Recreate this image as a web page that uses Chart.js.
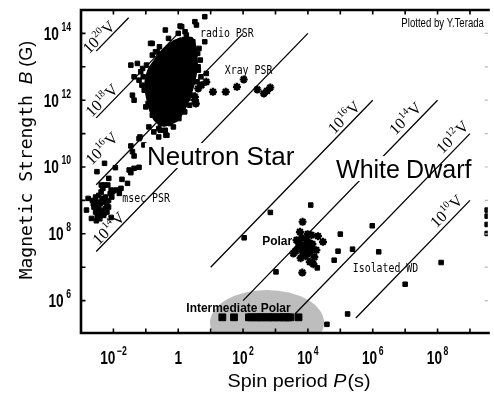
<!DOCTYPE html>
<html><head><meta charset="utf-8">
<script src="https://cdn.jsdelivr.net/npm/chart.js@4.4.1/dist/chart.umd.min.js"></script>
<style>html,body{margin:0;padding:0;background:#fff;overflow:hidden}canvas{display:block}</style>
</head><body>
<canvas id="c" width="494" height="394"></canvas>
<script>
// ===== data: log10 values =====
const xRangeExp = [-3.0, 9.55];      // log10 P(s)
const yRangeExp = [5.03, 14.70];     // log10 B(G)
const xTickExps = [-3,-2,-1,0,1,2,3,4,5,6,7,8,9];
const yTickExps = [6,7,8,9,10,11,12,13,14];
const xLabelExps = [-2,0,2,4,6,8];
const yLabelExps = [6,8,10,12,14];

// dense core of the radio pulsar cloud (outline)
const radioCoreLogP = [0.106,0.41,0.514,0.562,0.514,0.41,0.258,0.106,-0.046,-0.45,-0.702,-0.854,-0.957,-1.006,-0.906,-0.702,-0.45,-0.146,0.106];
const radioCoreLogB = [13.85,13.85,13.60,13.10,12.70,12.30,11.90,11.60,11.40,11.25,11.40,11.70,12.10,12.50,12.90,13.20,13.50,13.75,13.85];
// radio pulsars around the core
const radioLogP = [0.818,0.514,0.562,-0.398,0.106,0.210,0.818,-0.805,-0.702,-1.261,-1.462,-1.158,-1.362,-1.210,-1.413,-1.362,0.866,0.614,-0.906,-0.602,-0.350,-0.602,-1.210,0.058,-0.854,-1.18,
  0.25,0.45,0.60,0.62,0.58,0.48,0.35,0.20,0.02,-0.25,-0.55,-0.80,-0.93,-1.05,-1.08,-0.98,-0.80,-0.58,-0.30,0.00,0.68,0.70,-1.12,-1.00,-0.40,-0.15,0.30,0.64,-0.65,-1.10];
const radioLogB = [14.50,14.35,14.25,14.10,14.20,14.05,13.75,13.70,13.45,13.10,13.05,12.85,12.70,12.60,12.15,12.00,12.80,13.00,11.20,11.15,10.95,10.90,10.85,14.22,13.70,10.90,
  13.95,13.75,13.40,12.90,12.55,12.15,11.85,11.65,11.45,11.30,11.30,11.55,11.90,12.30,12.70,13.05,13.35,13.60,13.85,14.00,13.20,12.70,12.45,11.80,11.10,11.20,12.05,13.55,13.45,12.95];
// millisecond / recycled pulsars
const msecLogP = [-0.550,-0.754,-0.380,-1.462,-1.058,-0.906,-0.702,-1.413,-1.362,-2.508,-2.274,-1.939,-1.514,-1.362,-1.210,-1.462,-1.736,-1.565,-2.143,-2.374,-2.274,-2.173,-2.325,-2.070,-2.021,-1.918,-1.818,-1.766,-2.830,-2.678,-2.526,-2.781,-2.070,-2.426,
  -2.55,-2.45,-2.35,-2.25,-2.15,-2.50,-2.40,-2.30,-2.20,-2.60,-2.45,-2.35,-2.25,-2.55,-2.40,-2.30,-2.50,-2.20,-2.65,-2.10,-2.38,-2.62,-2.48,-2.28,-2.42,-2.15,-2.05];
const msecLogB = [11.10,11.05,10.95,10.63,10.66,10.56,10.56,10.46,10.33,9.86,10.11,9.98,9.91,9.96,9.99,9.83,9.63,9.51,9.66,9.46,9.46,9.46,9.36,9.31,9.26,9.31,9.21,9.36,8.71,8.46,8.39,9.06,8.49,8.53,
  9.10,9.15,9.05,9.10,9.00,8.95,8.90,8.95,8.85,8.80,8.75,8.70,8.75,8.65,8.60,8.55,8.50,8.65,9.00,9.20,9.25,8.90,8.85,8.62,8.45,8.80,9.10];
// X-ray pulsars
const xrayLogP = [0.614,0.714,0.866,0.514,0.514,0.544,1.07,1.465,1.81,2.02,2.44,2.64,2.74,2.84];
const xrayLogB = [12.35,12.45,12.55,12.10,12.00,11.90,12.25,12.25,12.40,12.62,12.32,12.20,12.28,12.38];
// polars
const polarLogP = [3.836,3.754,4.109,4.465,3.827,3.553,4.058,4.20,4.26,3.957,3.896,4.018,3.714,3.836,4.14,3.65,3.805,4.079,3.927,3.775,4.31,3.99,3.62,4.17,3.88,3.98,4.05,3.72,3.95,4.10];
const polarLogB = [8.36,8.06,7.96,7.76,6.84,7.41,7.16,7.30,7.51,7.81,7.66,7.57,7.60,7.45,7.69,7.81,7.87,7.45,7.33,7.27,7.93,7.99,7.48,7.09,7.55,7.40,7.72,7.72,7.60,7.55];
// isolated white dwarfs
const wdLogP = [4.088,2.842,2.033,5.0,5.985,4.93,5.377,6.185,4.81,4.29,3.015,8.11,7.0,5.225,4.587,9.53,9.53,9.53,9.53];
const wdLogB = [8.86,8.64,7.88,7.99,8.24,7.48,7.54,7.46,7.21,6.98,6.86,7.14,6.49,5.60,5.29,8.71,8.53,8.28,8.01];
// intermediate polars
const ipLogP = [1.36,1.72,2.18,2.25,2.37,2.43,2.55,2.60,2.73,2.79,2.90,2.96,3.08,3.13,3.25,3.31,3.39,3.46,3.71];
const ipLogB = [5.50,5.50,5.50,5.50,5.50,5.50,5.50,5.50,5.50,5.50,5.50,5.50,5.50,5.50,5.50,5.50,5.50,5.50,5.50];
// shaded intermediate-polar region: centre and half extent (decades)
const ipRegionLogP = [2.74, 1.76];
const ipRegionLogB = [5.33, 0.99];
// constant-voltage lines (log10 V) with their end points
const voltExp   = [20,18,16,14,16,14,12,10];
const voltP0 = [-2.53,-2.53,-2.53,-2.53,1.0,2.0,3.6,5.48];
const voltB0 = [13.47,11.47,9.47,7.47,7.0,6.0,5.6,5.48];
const voltP1 = [-1.53,0.0,2.0,4.0,6.0,8.0,9.0,9.0];
const voltB1 = [14.47,14.0,14.0,14.0,12.0,12.0,11.0,9.0];
// voltage label anchors (log P, log B)
const voltLabP = [-2.456,-2.365,-2.365,-2.152,5.11,7.0,8.456,8.27];
const voltLabB = [13.89,12.0,10.56,8.17,11.49,11.46,10.9,8.68];

// ===== build =====
const P10 = v => Math.pow(10, v);
const pts = (lp, lb) => lp.map((p, i) => ({x: P10(p), y: P10(lb[i])}));

const sq = (lp, lb, r) => ({data: pts(lp, lb), pointStyle: 'rect', pointRadius: r, pointBackgroundColor: '#000', pointBorderColor: '#000', pointBorderWidth: 1, showLine: false});
const star = (lp, lb) => ({data: pts(lp, lb), pointStyle: 'star', pointRadius: 4, pointBorderColor: '#000', pointBackgroundColor: '#000', pointBorderWidth: 2.2, showLine: false});

const datasets = [
  sq(ipLogP, ipLogB, 4.8),
  sq(wdLogP, wdLogB, 3.2),
  star(polarLogP, polarLogB),
  star(xrayLogP, xrayLogB),
  sq(msecLogP, msecLogB, 3.2),
  sq(radioLogP, radioLogB, 3.2),
  {data: pts(radioCoreLogP, radioCoreLogB), showLine: true, fill: 'shape', tension: 0.2, borderColor: '#000', backgroundColor: '#000', borderWidth: 3, pointRadius: 0}
];
voltExp.forEach((v, i) => {
  datasets.push({data: pts([voltP0[i], voltP1[i]], [voltB0[i], voltB1[i]]), showLine: true, borderColor: '#000', borderWidth: 1.3, pointRadius: 0, fill: false});
});

// text annotations (text, log P, log B of left baseline)
const notes = [
  {t: 'radio PSR', p: 0.675, b: 13.889, kind: 'mono'},
  {t: 'Xray PSR', p: 1.435, b: 12.78, kind: 'mono'},
  {t: 'msec PSR', p: -1.726, b: 8.949, kind: 'mono'},
  {t: 'Isolated WD', p: 5.386, b: 6.853, kind: 'mono'},
  {t: 'Polar', p: 2.59, b: 7.662, kind: 'bold'},
  {t: 'Intermediate Polar', p: 0.249, b: 5.656, kind: 'bold'}
];
const bigNotes = [
  {t: 'Neutron Star', p: -0.967, b: 10.057, box: true, size: 26},
  {t: 'White', p: 4.869, b: 9.668, box: true, size: 25},
  {t: 'Dwarf', p: 7.03, b: 9.668, box: false, size: 25}
];

function drawScaled(ctx, text, x, y, font, sx, align) {
  ctx.save();
  ctx.font = font;
  const w = ctx.measureText(text).width * sx;
  const x0 = align === 'right' ? x - w : align === 'center' ? x - w / 2 : x;
  ctx.translate(x0, y); ctx.scale(sx, 1);
  ctx.textAlign = 'left'; ctx.textBaseline = 'alphabetic';
  ctx.fillText(text, 0, 0);
  ctx.restore();
  return w;
}
function supLabel(ctx, base, exp, x, y, o) {
  ctx.save();
  ctx.font = o.bf; const bw = ctx.measureText(base).width * o.sx;
  ctx.font = o.ef; const ew = exp ? ctx.measureText(exp).width * o.sx : 0;
  const gap = exp ? o.gap : 0;
  const tot = bw + gap + ew;
  const x0 = o.align === 'right' ? x - tot : o.align === 'center' ? x - tot / 2 : x;
  ctx.translate(x0, y); ctx.scale(o.sx, 1);
  ctx.textAlign = 'left'; ctx.textBaseline = 'alphabetic';
  ctx.font = o.bf; ctx.fillText(base, 0, 0);
  if (exp) { ctx.font = o.ef; ctx.fillText(exp, (bw + gap) / o.sx, -o.rise); }
  ctx.restore();
}

const deco = {
  id: 'deco',
  beforeDatasetsDraw(chart) {
    const {ctx, chartArea: a, scales: {x, y}} = chart;
    ctx.save();
    ctx.beginPath(); ctx.rect(a.left, a.top, a.right - a.left, a.bottom - a.top); ctx.clip();
    const cx = x.getPixelForValue(P10(ipRegionLogP[0]));
    const cy = y.getPixelForValue(P10(ipRegionLogB[0]));
    const rx = x.getPixelForValue(P10(ipRegionLogP[0] + ipRegionLogP[1])) - cx;
    const ry = cy - y.getPixelForValue(P10(ipRegionLogB[0] + ipRegionLogB[1]));
    ctx.fillStyle = '#bdbdbd';
    ctx.beginPath(); ctx.ellipse(cx, cy, rx, ry, 0, 0, 2 * Math.PI); ctx.fill();
    ctx.restore();
  },
  afterDatasetsDraw(chart) {
    const {ctx, chartArea: a, scales: {x, y}} = chart;
    const X = v => x.getPixelForValue(P10(v));
    const Y = v => y.getPixelForValue(P10(v));
    ctx.save();
    ctx.fillStyle = '#000';

    // big region names with white background
    bigNotes.forEach(n => {
      const px = X(n.p), py = Y(n.b);
      ctx.font = n.size + 'px "Liberation Sans", Arial, sans-serif';
      const w = ctx.measureText(n.t).width;
      if (n.box) { ctx.fillStyle = '#fff'; ctx.fillRect(px - 2, py - 22, w + 4, 25); }
      ctx.fillStyle = '#000';
      ctx.textAlign = 'left'; ctx.textBaseline = 'alphabetic';
      ctx.fillText(n.t, px, py);
    });

    // small annotations
    notes.forEach(n => {
      const px = X(n.p), py = Y(n.b);
      if (n.kind === 'mono') drawScaled(ctx, n.t, px, py, '13px "DejaVu Sans Mono", monospace', 0.76, 'left');
      else drawScaled(ctx, n.t, px, py, 'bold 13px "Liberation Sans", Arial, sans-serif', 0.92, 'left');
    });

    // voltage labels
    voltExp.forEach((v, i) => {
      const px = X(voltLabP[i]), py = Y(voltLabB[i]);
      ctx.save();
      ctx.translate(px, py); ctx.rotate(-Math.PI / 4);
      const bf = '16px "Liberation Serif", "Times New Roman", serif';
      const ef = '10px "Liberation Serif", "Times New Roman", serif';
      ctx.font = bf; const w1 = ctx.measureText('10').width; const w3 = ctx.measureText('V').width;
      ctx.font = ef; const w2 = ctx.measureText(String(v)).width;
      let sx0 = -(w1 + w2 + w3 + 1) / 2;
      ctx.textAlign = 'left'; ctx.textBaseline = 'alphabetic';
      ctx.font = bf; ctx.fillText('10', sx0, 5.5);
      ctx.font = ef; ctx.fillText(String(v), sx0 + w1 + 0.5, -1.5);
      ctx.font = bf; ctx.fillText('V', sx0 + w1 + w2 + 1, 5.5);
      ctx.restore();
    });

    // credit
    drawScaled(ctx, 'Plotted by Y.Terada', X(9.43), Y(14.19), '12px "Liberation Sans", Arial, sans-serif', 0.8, 'right');

    // axes
    ctx.strokeStyle = '#000';
    ctx.lineWidth = 2.6;
    ctx.beginPath();
    ctx.moveTo(a.right + 2, a.top); ctx.lineTo(a.left, a.top);
    ctx.lineTo(a.left, a.bottom); ctx.lineTo(a.right + 2, a.bottom);
    ctx.stroke();
    ctx.lineWidth = 1.6;
    ctx.beginPath();
    xTickExps.forEach(e => {
      const px = X(e);
      ctx.moveTo(px, a.bottom); ctx.lineTo(px, a.bottom - 4.5);
      ctx.moveTo(px, a.top); ctx.lineTo(px, a.top + 4.5);
    });
    yTickExps.forEach(e => {
      const py = Y(e);
      ctx.moveTo(a.left, py); ctx.lineTo(a.left + 4.5, py);
    });
    ctx.stroke();
    // faint ticks of the (cut-off) right axis
    ctx.strokeStyle = '#b5b5b5'; ctx.lineWidth = 1.2;
    ctx.beginPath();
    yTickExps.forEach(e => { const py = Y(e); ctx.moveTo(a.right - 3, py); ctx.lineTo(a.right, py); });
    ctx.stroke();

    // tick labels
    ctx.fillStyle = '#000';
    const tk = {bf: 'bold 19px "Liberation Sans", Arial, sans-serif', ef: 'bold 12px "Liberation Sans", Arial, sans-serif', sx: 0.72, gap: 1.5, rise: 9};
    xLabelExps.forEach(e => {
      const px = X(e);
      if (e === 0) supLabel(ctx, '1', '', px, a.bottom + 31, Object.assign({}, tk, {align: 'center'}));
      else supLabel(ctx, '10', String(e).replace('-', '\u2212'), px, a.bottom + 31, Object.assign({}, tk, {align: 'center'}));
    });
    yLabelExps.forEach(e => {
      const py = Y(e);
      supLabel(ctx, '10', String(e), a.left - 10, py + 6.5, Object.assign({}, tk, {align: 'right', gap: 2.5}));
    });

    // axis titles
    {
      const f1 = '18px "Liberation Sans", Arial, sans-serif';
      const f2 = 'italic 18px "Liberation Sans", Arial, sans-serif';
      const sx = 1.1;
      ctx.font = f1; const wa = ctx.measureText('Spin period ').width * sx; const wc = ctx.measureText('(s)').width * sx;
      ctx.font = f2; const wb = ctx.measureText('P').width * sx;
      let x0 = 298.5 - (wa + wb + wc) / 2;
      const yb = 387;
      drawScaled(ctx, 'Spin period ', x0, yb, f1, sx, 'left');
      drawScaled(ctx, 'P', x0 + wa, yb, f2, sx, 'left');
      drawScaled(ctx, '(s)', x0 + wa + wb + 1, yb, f1, sx, 'left');
    }
    {
      ctx.save();
      ctx.translate(32, 160); ctx.rotate(-Math.PI / 2);
      const f1 = '18px "DejaVu Sans Mono", monospace';
      const f2 = 'italic 19px "Liberation Sans", Arial, sans-serif';
      const f3 = '18px "Liberation Sans", Arial, sans-serif';
      ctx.font = f1; const wa = ctx.measureText('Magnetic Strength ').width;
      ctx.font = f2; const wb = ctx.measureText('B').width;
      ctx.font = f3; const wc = ctx.measureText(' (G)').width;
      let x0 = -(wa + wb + wc) / 2;
      ctx.textAlign = 'left'; ctx.textBaseline = 'alphabetic';
      ctx.font = f1; ctx.fillText('Magnetic Strength ', x0, 0);
      ctx.font = f2; ctx.fillText('B', x0 + wa, 0);
      ctx.font = f3; ctx.fillText(' (G)', x0 + wa + wb, 0);
      ctx.restore();
    }
    ctx.restore();
  }
};

new Chart(document.getElementById('c'), {
  type: 'scatter',
  data: {datasets},
  options: {
    responsive: false, animation: false, devicePixelRatio: 1,
    layout: {padding: {left: 81, top: 10, right: 0, bottom: 61}},
    plugins: {legend: {display: false}, tooltip: {enabled: false}},
    scales: {
      x: {type: 'logarithmic', display: false, min: P10(xRangeExp[0]), max: P10(xRangeExp[1])},
      y: {type: 'logarithmic', display: false, min: P10(yRangeExp[0]), max: P10(yRangeExp[1])}
    }
  },
  plugins: [deco]
});
</script>
</body></html>
